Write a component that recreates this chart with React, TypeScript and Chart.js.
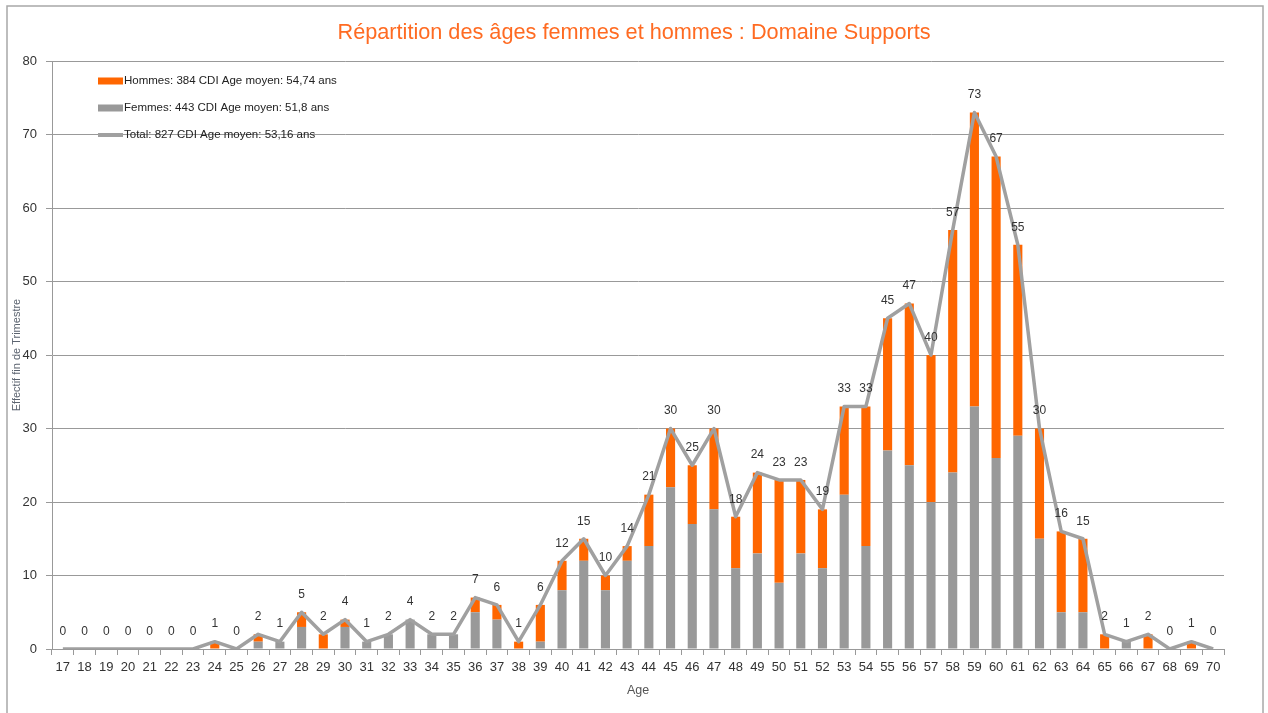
import React, { useEffect, useRef } from "react";
import { Chart, registerables } from "chart.js";

Chart.register(...registerables);

const ages = [
  "17", "18", "19", "20", "21", "22", "23", "24", "25", "26", "27", "28", "29", "30",
  "31", "32", "33", "34", "35", "36", "37", "38", "39", "40", "41", "42", "43", "44",
  "45", "46", "47", "48", "49", "50", "51", "52", "53", "54", "55", "56", "57", "58",
  "59", "60", "61", "62", "63", "64", "65", "66", "67", "68", "69", "70",
];

const femmes = [
  0, 0, 0, 0, 0, 0, 0, 0, 0, 1, 1, 3, 0, 3,
  1, 2, 4, 2, 2, 5, 4, 0, 1, 8, 12, 8, 12, 14,
  22, 17, 19, 11, 13, 9, 13, 11, 21, 14, 27, 25, 20, 24,
  33, 26, 29, 15, 5, 5, 0, 1, 0, 0, 0, 0,
];

const hommes = [
  0, 0, 0, 0, 0, 0, 0, 1, 0, 1, 0, 2, 2, 1,
  0, 0, 0, 0, 0, 2, 2, 1, 5, 4, 3, 2, 2, 7,
  8, 8, 11, 7, 11, 14, 10, 8, 12, 19, 18, 22, 20, 33,
  40, 41, 26, 15, 11, 10, 2, 0, 2, 0, 1, 0,
];

const totals = [
  0, 0, 0, 0, 0, 0, 0, 1, 0, 2, 1, 5, 2, 4,
  1, 2, 4, 2, 2, 7, 6, 1, 6, 12, 15, 10, 14, 21,
  30, 25, 30, 18, 24, 23, 23, 19, 33, 33, 45, 47, 40, 57,
  73, 67, 55, 30, 16, 15, 2, 1, 2, 0, 1, 0,
];

const legendLabels = [
  "Hommes: 384 CDI Age moyen: 54,74 ans",
  "Femmes: 443 CDI Age moyen: 51,8 ans",
  "Total: 827 CDI Age moyen: 53,16 ans",
];

const titleText = "Répartition des âges femmes et hommes : Domaine Supports";
const yTitle = "Effectif fin de Trimestre";
const xTitle = "Age";

const ORANGE = "#FF6600";
const GREY = "#999999";
const LINE_GREY = "#a0a0a0";
const FONT = "'Liberation Sans', Arial, Helvetica, sans-serif";

const framePlugin = {
  id: "frame",
  beforeDraw(chart: any) {
    const ctx = chart.ctx;
    ctx.save();
    ctx.fillStyle = "#ffffff";
    ctx.fillRect(0, 0, chart.width, chart.height);
    ctx.strokeStyle = "#a8a8a8";
    ctx.lineWidth = 1.5;
    ctx.strokeRect(7, 6, 1256, 730);
    ctx.restore();
  },
};

const labelsPlugin = {
  id: "totLabels",
  afterDatasetsDraw(chart: any) {
    const ctx = chart.ctx;
    const meta = chart.getDatasetMeta(2);
    ctx.save();
    ctx.font = `12px ${FONT}`;
    ctx.fillStyle = "#333333";
    ctx.textAlign = "center";
    ctx.textBaseline = "middle";
    meta.data.forEach((pt: any, i: number) => {
      ctx.fillText(String(totals[i]), pt.x, pt.y - 17.5);
    });
    ctx.restore();
  },
};

const legendPlugin = {
  id: "insideLegend",
  afterDraw(chart: any) {
    const ctx = chart.ctx;
    const x0 = chart.chartArea.left + 46;
    const ys = [81, 108, 135];
    ctx.save();
    ctx.font = `11.5px ${FONT}`;
    ctx.textBaseline = "middle";
    ctx.textAlign = "left";
    ctx.fillStyle = ORANGE;
    ctx.fillRect(x0, ys[0] - 3.5, 25, 7);
    ctx.fillStyle = GREY;
    ctx.fillRect(x0, ys[1] - 3.5, 25, 7);
    ctx.strokeStyle = LINE_GREY;
    ctx.lineWidth = 4;
    ctx.beginPath();
    ctx.moveTo(x0, ys[2]);
    ctx.lineTo(x0 + 25, ys[2]);
    ctx.stroke();
    ctx.fillStyle = "#222222";
    legendLabels.forEach((t, i) => ctx.fillText(t, x0 + 26, ys[i]));
    ctx.restore();
  },
};

export default function App() {
  const ref = useRef<HTMLCanvasElement | null>(null);

  useEffect(() => {
    if (!ref.current) return;
    Chart.defaults.font.family = FONT;
    const chart = new Chart(ref.current, {
      type: "bar",
      data: {
        labels: ages,
        datasets: [
          {
            type: "bar",
            label: legendLabels[1],
            data: femmes,
            backgroundColor: GREY,
            stack: "s",
            order: 1,
            barPercentage: 0.42,
            categoryPercentage: 1,
          },
          {
            type: "bar",
            label: legendLabels[0],
            data: hommes,
            backgroundColor: ORANGE,
            stack: "s",
            order: 2,
            barPercentage: 0.42,
            categoryPercentage: 1,
          },
          {
            type: "line",
            label: legendLabels[2],
            data: totals,
            borderColor: LINE_GREY,
            borderWidth: 3.5,
            pointRadius: 0,
            fill: false,
            tension: 0,
            stack: "t",
            order: 0,
            borderJoinStyle: "round",
          } as any,
        ],
      },
      options: {
        responsive: false,
        animation: false,
        layout: { padding: 0 },
        plugins: {
          legend: { display: false },
          tooltip: { enabled: false },
          title: {
            display: true,
            text: titleText,
            color: "#FF6B22",
            font: { size: 21.7, weight: "normal", family: FONT },
            padding: { top: 20, bottom: 15 },
          },
        },
        scales: {
          x: {
            stacked: true,
            grid: {
              display: true,
              drawOnChartArea: false,
              drawTicks: true,
              tickLength: 6,
              color: "#999999",
              offset: true,
            },
            border: { display: true, color: "#999999", width: 1 },
            ticks: {
              color: "#333333",
              font: { size: 13 },
              padding: 5,
              autoSkip: false,
              maxRotation: 0,
            },
            title: {
              display: true,
              text: xTitle,
              color: "#555555",
              font: { size: 12.5 },
              padding: { top: 0, bottom: 15 },
            },
            afterFit(scale: any) {
              scale.height = 64;
            },
          },
          y: {
            stacked: true,
            min: 0,
            max: 80,
            ticks: {
              stepSize: 10,
              color: "#333333",
              font: { size: 13 },
              padding: 9,
            },
            grid: {
              color: "#999999",
              lineWidth: 1,
              tickLength: 6,
              drawTicks: true,
            },
            border: { display: true, color: "#999999", width: 1 },
            title: {
              display: true,
              text: yTitle,
              color: "#5c6470",
              font: { size: 11 },
              padding: { top: 10.4, bottom: 0 },
            },
            afterFit(scale: any) {
              scale.width = 52;
            },
          },
          y2: {
            position: "right",
            display: true,
            grid: { display: false, drawTicks: false },
            border: { display: false },
            ticks: { display: false },
            afterFit(scale: any) {
              scale.width = 44;
            },
          },
        },
      } as any,
      plugins: [framePlugin, labelsPlugin, legendPlugin],
    });
    return () => chart.destroy();
  }, []);

  return (
    <div style={{ position: "fixed", left: 0, top: 0, width: 1268, height: 713, background: "#fff" }}>
      <canvas ref={ref} width={1268} height={713} style={{ display: "block" }} />
    </div>
  );
}
